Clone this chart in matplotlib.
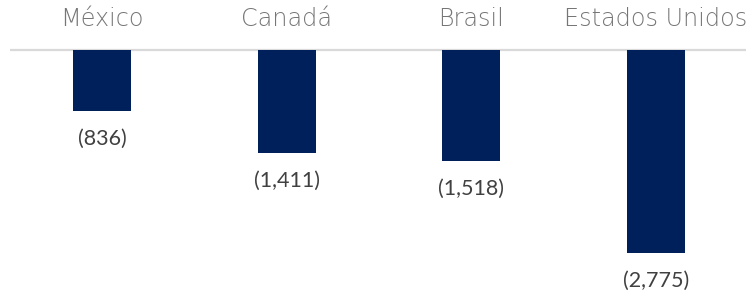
import matplotlib.pyplot as plt

paises = ["México", "Canadá", "Brasil", "Estados Unidos"]
valores = [-836, -1411, -1518, -2775]
etiquetas = ["(836)", "(1,411)", "(1,518)", "(2,775)"]

W, H = 746, 297
fig = plt.figure(figsize=(W / 100, H / 100), dpi=100)
# zero line sits 50px from the top, ~0.0731 px per unit
escala = 0.0731
ax = fig.add_axes([10 / W, 0, 738 / W, 1])
ax.set_xlim(-0.5, 3.5)
ax.set_ylim(-(H - 50) / escala, 50 / escala)
ax.axis('off')

ax.axhline(0, color="#d9d9d9", lw=1.6, zorder=1)
x = range(len(paises))
ax.bar(x, valores, width=0.315, color="#00205b", zorder=2)

for i, (p, v, e) in enumerate(zip(paises, valores, etiquetas)):
    ax.text(i, 31 / escala, p, ha="center", va="center", fontsize=17.2,
            color="#767676", family="DejaVu Sans", fontweight="light")
    ax.annotate(e, (i, v), xytext=(0, -20), textcoords="offset points",
                ha="center", va="center", fontsize=15.5, color="#404040",
                family="Lato")

fig.savefig("out.png", dpi=100)
